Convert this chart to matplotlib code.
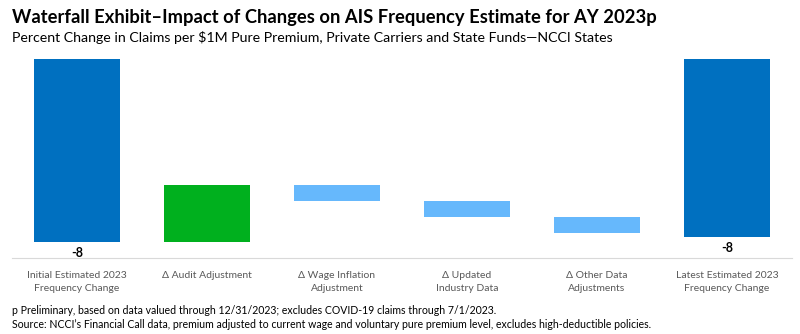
import matplotlib.pyplot as plt

plt.rcParams['font.family'] = ['Lato', 'DejaVu Sans']

categories = ['Initial Estimated 2023\nFrequency Change', '\u0394 Audit Adjustment',
              '\u0394 Wage Inflation\nAdjustment', '\u0394 Updated\nIndustry Data',
              '\u0394 Other Data\nAdjustments', 'Latest Estimated 2023\nFrequency Change']
initial = -8.0
changes = [2.5, -0.7, -0.7, -0.7]
latest = -7.8

dark_blue = '#0070C0'
green = '#00B01E'
light_blue = '#66B8FC'

fig = plt.figure(figsize=(8, 3.34), dpi=100)
ax = fig.add_axes([12 / 800, 1 - 258 / 334, 780 / 800, 199 / 334])

# totals hang from zero, steps float between running levels
ax.bar(0, initial, width=0.66, color=dark_blue)
level = initial
for i, c in enumerate(changes, start=1):
    ax.bar(i, c, bottom=level, width=0.66, color=green if c > 0 else light_blue)
    level += c
ax.bar(len(categories) - 1, latest, width=0.66, color=dark_blue)

for x, v in [(0, initial), (len(categories) - 1, latest)]:
    ax.text(x, v - 0.22, f'{v:.0f}', ha='center', va='top', fontsize=9,
            fontweight='bold', color='black')

ax.set_xlim(-0.5, len(categories) - 0.5)
ax.set_ylim(-8.71, 0)
ax.set_xticks(range(len(categories)))
ax.set_xticklabels(categories, fontsize=7.5, color='#595959', linespacing=1.6)
ax.tick_params(axis='x', length=0, pad=9)
ax.set_yticks([])
for s in ['top', 'left', 'right']:
    ax.spines[s].set_visible(False)
ax.spines['bottom'].set_color('#D9D9D9')

fig.text(12 / 800, 1 - 17 / 334, 'Waterfall Exhibit\u2013Impact of Changes on AIS Frequency Estimate for AY 2023p',
         fontsize=13.2, fontweight='bold', va='center', color='black')
fig.text(12 / 800, 1 - 38 / 334, 'Percent Change in Claims per $1M Pure Premium, Private Carriers and State Funds\u2014NCCI States',
         fontsize=10.2, va='center', color='black')
fig.text(12 / 800, 1 - 311 / 334, 'p Preliminary, based on data valued through 12/31/2023; excludes COVID-19 claims through 7/1/2023.',
         fontsize=7.6, va='center', color='black')
fig.text(12 / 800, 1 - 325 / 334, 'Source: NCCI\u2019s Financial Call data, premium adjusted to current wage and voluntary pure premium level, excludes high-deductible policies.',
         fontsize=7.6, va='center', color='black')

fig.savefig('out.png', dpi=100)
